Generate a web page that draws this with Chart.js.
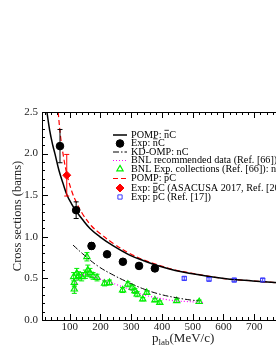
<!DOCTYPE html>
<html>
<head>
<meta charset="utf-8">
<script src="https://cdn.jsdelivr.net/npm/chart.js@4.4.1/dist/chart.umd.min.js"></script>
<style>
  html, body { margin: 0; padding: 0; background: #fff; overflow: hidden; }
  #wrap { position: absolute; left: 0; top: 0; width: 300px; height: 358px; }
</style>
</head>
<body>
<div id="wrap"><canvas id="chart" width="300" height="358"></canvas></div>
<script>
// axis ticks
const xMajor = [100, 200, 300, 400, 500, 600, 700];
const xMinor = [20, 40, 60, 80, 120, 140, 160, 180, 220, 240, 260, 280, 320, 340, 360, 380,
  420, 440, 460, 480, 520, 540, 560, 580, 620, 640, 660, 680, 720, 740, 760, 780];
const yMajor = [0.0, 0.5, 1.0, 1.5, 2.0, 2.5];
const yMinor = [0.1, 0.2, 0.3, 0.4, 0.6, 0.7, 0.8, 0.9, 1.1, 1.2, 1.3, 1.4,
  1.6, 1.7, 1.8, 1.9, 2.1, 2.2, 2.3, 2.4];

// POMP: nbar C (solid black)
const pompNX = [26, 35, 45, 52, 65, 78.5, 91.5, 105.5, 121, 141, 166, 198.5, 242, 295, 342.5, 393, 443, 494, 544, 621, 695, 767, 800];
const pompNY = [2.5, 2.28, 2.1, 2.0, 1.80, 1.64, 1.5, 1.40, 1.31, 1.21, 1.10, 1.0, 0.89, 0.78, 0.71, 0.645, 0.595, 0.56, 0.53, 0.49, 0.47, 0.45, 0.44];

// Exp: nbar C (black dots)
const expNX = [68.5, 121, 171, 221.5, 273, 325.5, 377];
const expNY = [2.09, 1.32, 0.89, 0.79, 0.70, 0.65, 0.62];
const expNErr = [0.2, 0.1, 0.04, 0.03, 0.03, 0.03, 0.03];

// KD-OMP: nC (dash-dot)
const kdX = [111, 141, 191, 242, 292, 342.5, 393, 443, 494, 524];
const kdY = [0.90, 0.80, 0.65, 0.54, 0.45, 0.37, 0.31, 0.27, 0.24, 0.23];

// BNL recommended data (magenta dotted)
const bnlRecX = [116, 121, 131, 151, 191, 242, 292, 342.5, 393, 443, 494, 539];
const bnlRecY = [0.33, 0.45, 0.52, 0.55, 0.50, 0.44, 0.37, 0.30, 0.26, 0.23, 0.22, 0.21];

// BNL Exp. collections (green triangles)
const bnlExpX = [113, 115, 115, 123, 129, 139, 151, 156, 159, 166, 176, 189, 213.5, 229.5, 272, 289, 303, 312, 319.5, 337.5, 350.5, 377, 393, 448, 521];
const bnlExpY = [0.52, 0.45, 0.37, 0.56, 0.53, 0.52, 0.55, 0.76, 0.60, 0.57, 0.53, 0.51, 0.44, 0.45, 0.36, 0.43, 0.39, 0.35, 0.31, 0.25, 0.33, 0.24, 0.21, 0.23, 0.22];
const bnlExpErr = [0.05, 0.05, 0.05, 0.06, 0.05, 0.05, 0.05, 0.05, 0.06, 0.05, 0.04, 0.04, 0.03, 0.03, 0.03, 0.03, 0.03, 0.03, 0.03, 0.02, 0.02, 0.02, 0.02, 0.02, 0.02];

// POMP: pbar C (red dashed)
const pompPX = [62.5, 70.5, 80.5, 90.5, 106.5, 121, 141, 171, 198.5, 242, 295, 342.5, 393, 443, 494, 544, 621, 695, 767, 800];
const pompPY = [2.5, 2.2, 1.95, 1.76, 1.55, 1.42, 1.28, 1.13, 1.04, 0.92, 0.80, 0.72, 0.655, 0.60, 0.565, 0.53, 0.49, 0.47, 0.45, 0.44];

// Exp: pbar C (ASACUSA 2017)
const asacusaX = [90.5];
const asacusaY = [1.74];
const asacusaErr = [0.25];

// Exp: pbar C (Ref. [17])
const ref17X = [472.5, 553, 635, 727.5];
const ref17Y = [0.50, 0.49, 0.48, 0.48];
const ref17Err = [0.02, 0.02, 0.02, 0.02];

const legendLabels = [
  ['POMP: ', 'n', true, 'C'],
  ['Exp: ', 'n', true, 'C'],
  ['KD-OMP: ', 'n', false, 'C'],
  ['BNL recommended data (Ref. [66]): ', 'n', false, 'C'],
  ['BNL Exp. collections (Ref. [66]): ', 'n', false, 'C'],
  ['POMP: ', 'p', true, 'C'],
  ['Exp: ', 'p', true, 'C (ASACUSA 2017, Ref. [20])'],
  ['Exp: ', 'p', true, 'C (Ref. [17])']
];

const FONT = '"Liberation Serif", "Times New Roman", serif';

function pts(xs, ys) {
  return xs.map((x, i) => ({ x: x, y: ys[i] }));
}

const datasets = [
  { data: pts(pompNX, pompNY), showLine: true, borderColor: '#000', borderWidth: 1.5,
    pointRadius: 0, tension: 0.4 },
  { data: pts(expNX, expNY), showLine: false, backgroundColor: '#000', borderColor: '#000',
    pointRadius: 3.8, pointStyle: 'circle', errors: expNErr, errColor: '#000' },
  { data: pts(kdX, kdY), showLine: true, borderColor: '#000', borderWidth: 1,
    borderDash: [6, 2, 1.5, 2], pointRadius: 0, tension: 0.4 },
  { data: pts(bnlRecX, bnlRecY), showLine: true, borderColor: '#ff00ff', borderWidth: 1.2,
    borderDash: [1, 2], pointRadius: 0, tension: 0.3 },
  { data: pts(bnlExpX, bnlExpY), showLine: false, borderColor: '#00ee00', backgroundColor: 'rgba(0,0,0,0)',
    borderWidth: 1.2, pointRadius: 3.6, pointStyle: 'triangle', errors: bnlExpErr, errColor: '#00ee00' },
  { data: pts(pompPX, pompPY), showLine: true, borderColor: '#ff0000', borderWidth: 1.2,
    borderDash: [5, 3], pointRadius: 0, tension: 0.4 },
  { data: pts(asacusaX, asacusaY), showLine: false, backgroundColor: '#ff0000', borderColor: '#ff0000',
    pointRadius: 4, pointStyle: 'rectRot', errors: asacusaErr, errColor: '#ff0000' },
  { data: pts(ref17X, ref17Y), showLine: false, borderColor: '#3a3aff', backgroundColor: 'rgba(0,0,0,0)',
    borderWidth: 1, pointRadius: 3, pointStyle: 'rect', errors: ref17Err, errColor: '#3a3aff' }
];

// error bars from the dataset's errors array
const errorBars = {
  id: 'errorBars',
  afterDatasetsDraw(chart) {
    const ctx = chart.ctx;
    const xs = chart.scales.x, ys = chart.scales.y;
    ctx.save();
    chart.data.datasets.forEach(ds => {
      if (!ds.errors) return;
      ctx.strokeStyle = ds.errColor;
      ctx.lineWidth = 1;
      ds.data.forEach((p, i) => {
        const px = xs.getPixelForValue(p.x);
        const y1 = ys.getPixelForValue(p.y + ds.errors[i]);
        const y2 = ys.getPixelForValue(p.y - ds.errors[i]);
        ctx.beginPath();
        ctx.moveTo(px, y1); ctx.lineTo(px, y2);
        ctx.moveTo(px - 2.5, y1); ctx.lineTo(px + 2.5, y1);
        ctx.moveTo(px - 2.5, y2); ctx.lineTo(px + 2.5, y2);
        ctx.stroke();
      });
    });
    ctx.restore();
  }
};

// frame, inward ticks, tick labels and axis titles
const frame = {
  id: 'frame',
  afterDraw(chart) {
    const ctx = chart.ctx;
    const a = chart.chartArea;
    const xs = chart.scales.x, ys = chart.scales.y;
    ctx.save();
    ctx.strokeStyle = '#000';
    ctx.lineWidth = 1;
    ctx.strokeRect(a.left + 0.5, a.top + 0.5, a.right - a.left, a.bottom - a.top);

    ctx.beginPath();
    const tickX = (v, len) => {
      const px = Math.round(xs.getPixelForValue(v)) + 0.5;
      ctx.moveTo(px, a.bottom); ctx.lineTo(px, a.bottom - len);
      ctx.moveTo(px, a.top); ctx.lineTo(px, a.top + len);
    };
    const tickY = (v, len) => {
      const py = Math.round(ys.getPixelForValue(v)) + 0.5;
      ctx.moveTo(a.left, py); ctx.lineTo(a.left + len, py);
      ctx.moveTo(a.right, py); ctx.lineTo(a.right - len, py);
    };
    xMajor.forEach(v => tickX(v, 6));
    xMinor.forEach(v => tickX(v, 3));
    yMajor.forEach(v => tickY(v, 6));
    yMinor.forEach(v => tickY(v, 3));
    ctx.stroke();

    ctx.fillStyle = '#222';
    ctx.font = '11px ' + FONT;
    ctx.textAlign = 'center';
    ctx.textBaseline = 'top';
    xMajor.forEach(v => ctx.fillText(String(v), xs.getPixelForValue(v), a.bottom + 2));
    ctx.textAlign = 'right';
    ctx.textBaseline = 'middle';
    yMajor.forEach(v => ctx.fillText(v.toFixed(1), a.left - 4, ys.getPixelForValue(v)));

    // y title
    ctx.save();
    ctx.translate(18, (a.top + a.bottom) / 2);
    ctx.rotate(-Math.PI / 2);
    ctx.font = '12.5px ' + FONT;
    ctx.textAlign = 'center';
    ctx.textBaseline = 'middle';
    ctx.fillText('Cross sections (barns)', 0, 0);
    ctx.restore();

    // x title with subscript
    ctx.textAlign = 'left';
    ctx.textBaseline = 'alphabetic';
    let tx = 152, ty = 342;
    ctx.font = '13px ' + FONT;
    ctx.fillText('p', tx, ty);
    tx += ctx.measureText('p').width;
    ctx.font = '9px ' + FONT;
    ctx.fillText('lab', tx, ty + 3);
    tx += ctx.measureText('lab').width;
    ctx.font = '13px ' + FONT;
    ctx.fillText('(MeV/c)', tx, ty);
    ctx.restore();
  }
};

// legend drawn inside the plot
const legendBox = {
  id: 'legendBox',
  afterDraw(chart) {
    const ctx = chart.ctx;
    const rows = [135, 143.5, 152, 160.5, 169, 178.5, 188, 197];
    const sx = 120, tx = 131;
    ctx.save();
    datasets.forEach((ds, i) => {
      const y = rows[i];
      ctx.save();
      ctx.strokeStyle = ds.borderColor;
      ctx.fillStyle = ds.backgroundColor || ds.borderColor;
      ctx.lineWidth = ds.borderWidth || 1;
      if (ds.showLine) {
        ctx.setLineDash(ds.borderDash || []);
        ctx.beginPath();
        ctx.moveTo(sx - 7, y); ctx.lineTo(sx + 7, y);
        ctx.stroke();
      } else {
        Chart.helpers.drawPoint(ctx, {
          pointStyle: ds.pointStyle, radius: ds.pointRadius, rotation: 0,
          borderWidth: ds.borderWidth || 1
        }, sx, y);
      }
      ctx.restore();

      const lab = legendLabels[i];
      ctx.fillStyle = '#000';
      ctx.font = '10.2px ' + FONT;
      ctx.textBaseline = 'middle';
      ctx.textAlign = 'left';
      let x = tx;
      ctx.fillText(lab[0], x, y);
      x += ctx.measureText(lab[0]).width;
      const w = ctx.measureText(lab[1]).width;
      ctx.fillText(lab[1], x, y);
      if (lab[2]) {
        ctx.beginPath();
        ctx.strokeStyle = '#000';
        ctx.lineWidth = 0.8;
        ctx.moveTo(x + 0.3, y - 4.7); ctx.lineTo(x + w - 0.3, y - 4.7);
        ctx.stroke();
      }
      x += w;
      ctx.fillText(lab[3], x, y);
    });
    ctx.restore();
  }
};

new Chart(document.getElementById('chart'), {
  type: 'scatter',
  data: { datasets: datasets },
  options: {
    responsive: false,
    animation: false,
    layout: { padding: { left: 42, right: 15, top: 112, bottom: 38 } },
    plugins: { legend: { display: false }, tooltip: { enabled: false } },
    scales: {
      x: { type: 'linear', min: 10, max: 800, display: false },
      y: { type: 'linear', min: 0, max: 2.5, display: false }
    }
  },
  plugins: [errorBars, frame, legendBox]
});
</script>
</body>
</html>
